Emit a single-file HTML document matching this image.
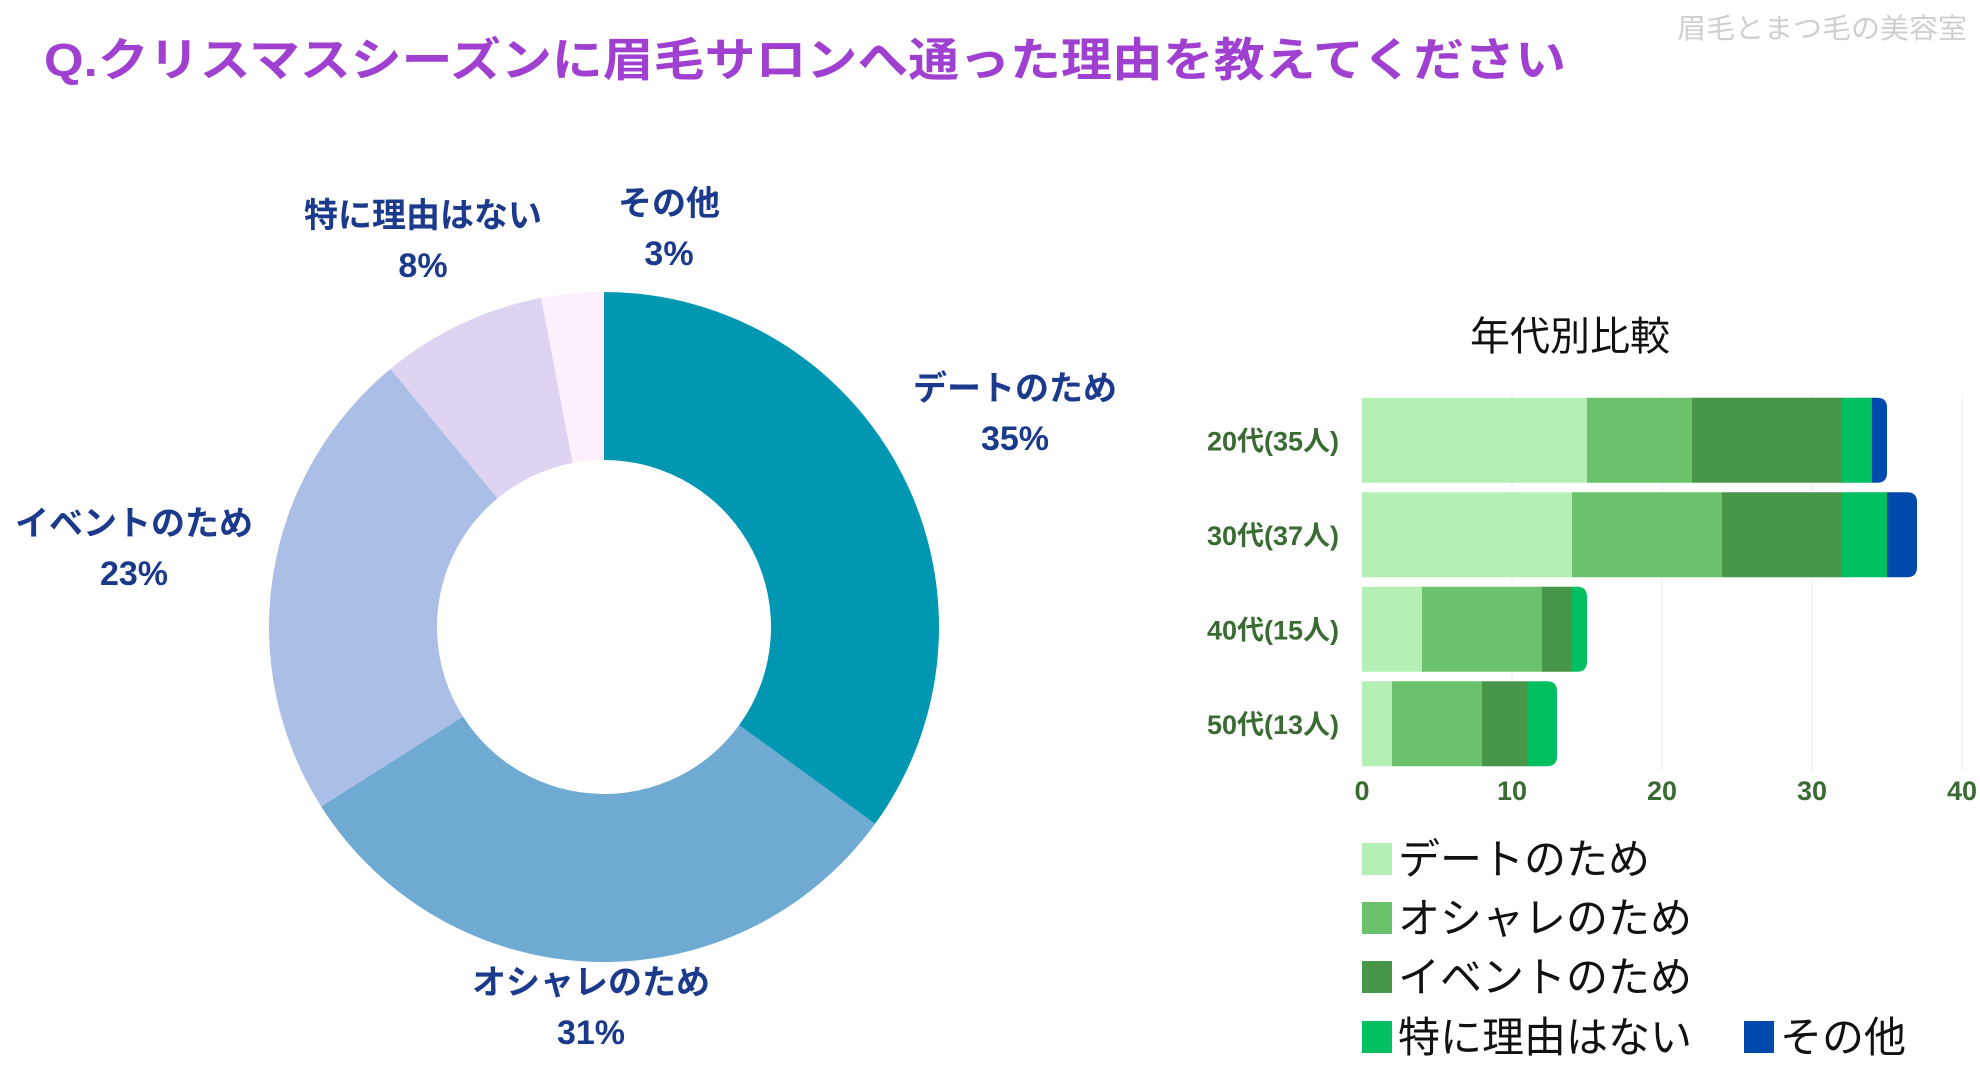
<!DOCTYPE html>
<html><head><meta charset="utf-8"><style>
html,body{margin:0;padding:0;background:#fff;}
svg{display:block;font-family:"Liberation Sans","Noto Sans CJK JP",sans-serif;}
</style></head><body>
<svg id="c" width="1980" height="1080" viewBox="0 0 1980 1080">
<text x="44" y="76" font-size="46" font-weight="bold" fill="#a040d0" textLength="1522" lengthAdjust="spacingAndGlyphs">Q.クリスマスシーズンに眉毛サロンへ通った理由を教えてください</text>
<text x="1967" y="38" font-size="28" fill="#cfcfcf" text-anchor="end" textLength="290" lengthAdjust="spacingAndGlyphs">眉毛とまつ毛の美容室</text>
<g id="donut"></g>
<g id="bars"></g>
</svg>
<script>
const pieLabels=["デートのため","オシャレのため","イベントのため","特に理由はない","その他"];
const pieValues=[35,31,23,8,3];
const pieColors=["#0097b2","#6faad2","#abbee5","#ded4f2","#fdf0fd"];
const labelPos=[[1015,388],[591,982],[134,523],[423,215],[669,203]];

const ageCats=["20代(35人)","30代(37人)","40代(15人)","50代(13人)"];
const sDate=[15,14,4,2];
const sOshare=[7,10,8,6];
const sEvent=[10,8,2,3];
const sNone=[2,3,1,2];
const sOther=[1,2,0,0];
const seriesNames=["デートのため","オシャレのため","イベントのため","特に理由はない","その他"];
const xTicks=[0,10,20,30,40];

const NS="http://www.w3.org/2000/svg";
function mk(tag,attrs,parent){const e=document.createElementNS(NS,tag);for(const k in attrs)e.setAttribute(k,attrs[k]);parent.appendChild(e);return e;}

// donut
const dg=document.getElementById('donut');
const cx=604,cy=627,R=335,r=167;
const total=pieValues.reduce((a,b)=>a+b,0);
let ang=0;
function pt(a,rad){return [cx+rad*Math.sin(a),cy-rad*Math.cos(a)];}
pieValues.forEach((v,i)=>{
  const a0=ang/total*2*Math.PI, a1=(ang+v)/total*2*Math.PI; ang+=v;
  const large=(a1-a0)>Math.PI?1:0;
  const p0=pt(a0,R),p1=pt(a1,R),q1=pt(a1,r),q0=pt(a0,r);
  const p=mk('path',{d:`M${p0}A${R},${R} 0 ${large} 1 ${p1}L${q1}A${r},${r} 0 ${large} 0 ${q0}Z`,fill:pieColors[i]},dg);
  
  
  const [lx,ly]=labelPos[i];
  const t=mk('text',{x:lx,y:ly+12,'font-size':34,'font-weight':'bold',fill:'#1b3a8c','text-anchor':'middle'},dg);
  t.textContent=pieLabels[i];
  
  
  const t2=mk('text',{x:lx,y:ly+62,'font-size':34,'font-weight':'bold',fill:'#1b3a8c','text-anchor':'middle'},dg);
  t2.textContent=v+'%';
  
  
});

// bars
const bg=document.getElementById('bars');
const x0=1362,xUnit=15,top0=393,band=94.5,bh=85;
const X=v=>x0+v*xUnit;
const series=[sDate,sOshare,sEvent,sNone,sOther];
const sColors=["#b4f0b4","#6cc26c","#48964a","#00bf60","#004aad"];
const tt=mk('text',{x:1570,y:350,'font-size':40,fill:'#111','text-anchor':'middle'},bg);
tt.textContent="年代別比較";


xTicks.forEach(t=>{
  if(t>0){const l=mk('line',{x1:X(t),x2:X(t),y1:top0,y2:top0+band*4,stroke:'#ececec','stroke-width':1},bg);
  
  }
  const tx=mk('text',{x:X(t),y:800,'font-size':27,'font-weight':'bold',fill:'#3a6b32','text-anchor':'middle'},bg);
  tx.textContent=t;
  
  
});
ageCats.forEach((c,j)=>{
  const y=top0+j*band+(band-bh)/2;
  const lb=mk('text',{x:1339,y:y+bh/2+10,'font-size':27,'font-weight':'bold',fill:'#3a6b32','text-anchor':'end'},bg);
  lb.textContent=c;
  
  
  let acc=0;
  let lastIdx=-1;series.forEach((s,i)=>{if(s[j]>0)lastIdx=i;});
  series.forEach((s,i)=>{
    const v=s[j]; if(v<=0){return;}
    const xa=X(acc),w=X(acc+v)-xa; acc+=v;
    let el;
    if(i===lastIdx){
      const rr=Math.min(10,w);
      el=mk('path',{d:`M${xa},${y}H${xa+w-rr}Q${xa+w},${y} ${xa+w},${y+rr}V${y+bh-rr}Q${xa+w},${y+bh} ${xa+w-rr},${y+bh}H${xa}Z`,fill:sColors[i]},bg);
    } else {
      el=mk('rect',{x:xa,y:y,width:w,height:bh,fill:sColors[i]},bg);
    }
    
    
  });
});
// legend
const legPos=[[1362,859],[1362,918],[1362,977],[1362,1037],[1744,1037]];
seriesNames.forEach((n,i)=>{
  const [lx,ly]=legPos[i];
  const sw=mk('rect',{x:lx,y:ly-16,width:30,height:32,fill:sColors[i]},bg);
  
  
  const t=mk('text',{x:lx+36,y:ly+15,'font-size':42,fill:'#111'},bg);
  t.textContent=n;
  
  
});
</script>
</body></html>
